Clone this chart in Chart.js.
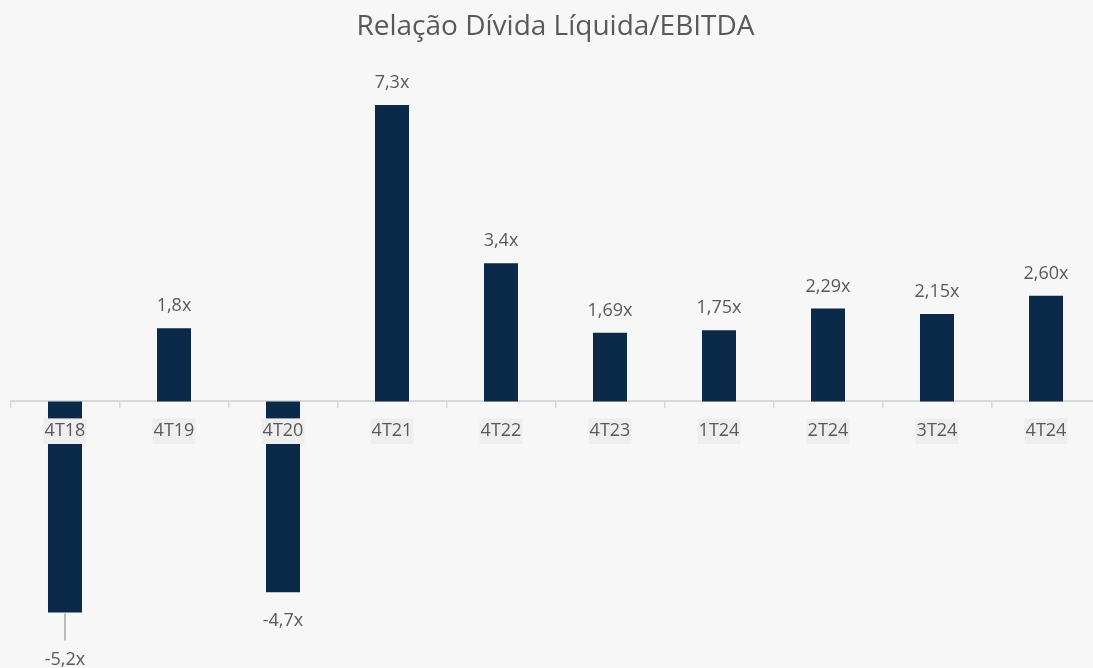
<!DOCTYPE html>
<html>
<head>
<meta charset="utf-8">
<script src="https://cdn.jsdelivr.net/npm/chart.js@4"></script>
<style>
  html, body { margin: 0; padding: 0; background: #f7f7f7; overflow: hidden; }
  #wrap { width: 1112px; height: 668px; }
</style>
</head>
<body>
<div id="wrap"><canvas id="chart" width="1112" height="668"></canvas></div>
<script>
const categories = ["4T18", "4T19", "4T20", "4T21", "4T22", "4T23", "1T24", "2T24", "3T24", "4T24"];
const ratios = [-5.2, 1.8, -4.7, 7.3, 3.4, 1.69, 1.75, 2.29, 2.15, 2.60];
const ratioLabels = ["-5,2x", "1,8x", "-4,7x", "7,3x", "3,4x", "1,69x", "1,75x", "2,29x", "2,15x", "2,60x"];

const textColor = "#595959";

// value labels above / below each bar
const valueLabels = {
  id: "valueLabels",
  afterDatasetsDraw(chart) {
    const ctx = chart.ctx;
    const meta = chart.getDatasetMeta(0);
    ctx.save();
    ctx.font = "18px 'Open Sans'";
    ctx.fillStyle = textColor;
    ctx.textAlign = "center";
    ctx.textBaseline = "middle";
    meta.data.forEach(function (bar, i) {
      const v = ratios[i];
      if (v >= 0) {
        ctx.fillText(ratioLabels[i], bar.x, bar.y - 22);
      } else if (i === 0) {
        // leader line for the lowest bar
        ctx.strokeStyle = "#a6a6a6";
        ctx.lineWidth = 1.5;
        ctx.beginPath();
        ctx.moveTo(bar.x, bar.y + 1);
        ctx.lineTo(bar.x, bar.y + 28);
        ctx.stroke();
        ctx.fillText(ratioLabels[i], bar.x, bar.y + 47);
      } else {
        ctx.fillText(ratioLabels[i], bar.x, bar.y + 29);
      }
    });
    ctx.restore();
  }
};

new Chart(document.getElementById("chart").getContext("2d"), {
  type: "bar",
  data: {
    labels: categories,
    datasets: [{
      data: ratios,
      backgroundColor: "#0b2a4a",
      categoryPercentage: 1,
      barPercentage: 0.312
    }]
  },
  options: {
    responsive: false,
    animation: false,
    layout: { padding: { left: 10.5, right: 11.5, top: 0, bottom: 23 } },
    plugins: {
      legend: { display: false },
      tooltip: { enabled: false },
      title: {
        display: true,
        text: "Relação Dívida Líquida/EBITDA",
        color: textColor,
        font: { family: "'Open Sans'", size: 28, weight: "normal" },
        padding: { top: 10, bottom: 33 }
      }
    },
    scales: {
      x: {
        position: { y: 0 },
        grid: { drawOnChartArea: false, drawTicks: true, tickLength: 6, color: "#d9d9d9", lineWidth: 1.5, offset: true },
        border: { color: "#d9d9d9", width: 2 },
        ticks: {
          z: 1,
          color: textColor,
          font: { family: "'Open Sans'", size: 18 },
          padding: 13,
          showLabelBackdrop: true,
          backdropColor: "#eeeeee",
          backdropPadding: { top: 2, bottom: 2, left: 1, right: 1 }
        }
      },
      y: {
        display: false,
        min: -6,
        max: 8
      }
    }
  },
  plugins: [valueLabels]
});
</script>
</body>
</html>
